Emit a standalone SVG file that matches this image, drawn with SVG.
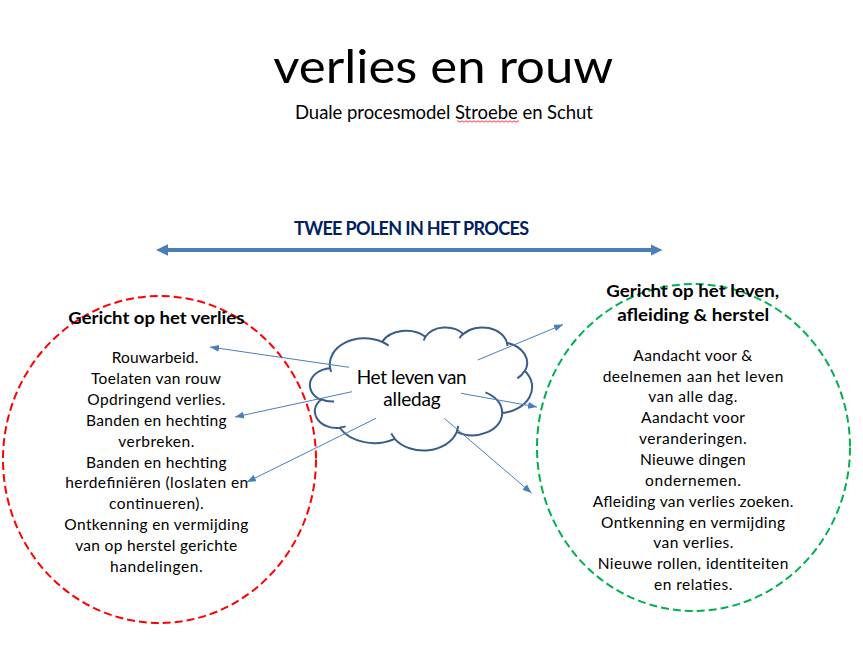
<svg xmlns="http://www.w3.org/2000/svg" width="863" height="645" viewBox="0 0 863 645">
<style>
.t{font-family:Lato,"Liberation Sans",sans-serif;fill:#000;text-anchor:middle}
.b{font-weight:bold}
.body{font-size:15.5px}
.hd{font-size:17px;font-weight:bold}
.conn{stroke:#4a7ebb;stroke-width:1;fill:none;marker-end:url(#ah)}
.ring{fill:none;stroke-width:2;stroke-dasharray:8 4}
.cl{fill:none;stroke:#385d8a;stroke-width:2}
</style>
<defs>
<marker id="ah" markerWidth="9" markerHeight="7" refX="9" refY="3.5" orient="auto" markerUnits="userSpaceOnUse"><path d="M0,0 L9,3.5 L0,7 z" fill="#4a7ebb"/></marker>
<marker id="big" markerWidth="12" markerHeight="11.4" refX="4" refY="5.7" orient="auto-start-reverse" markerUnits="userSpaceOnUse"><path d="M0,0 L12,5.7 L0,11.4 z" fill="#4a7ebb"/></marker>
</defs>
<rect width="863" height="645" fill="#fff"/>

<g id="title">
<text class="t" x="443.3" y="83.3" font-size="46" textLength="340" lengthAdjust="spacingAndGlyphs">verlies en rouw</text>
<text class="t" x="444" y="119.3" font-size="18.5" textLength="298">Duale procesmodel Stroebe en Schut</text>
<path d="M457 121.5 q1 -1.5 2 0 t2 0 t2 0 t2 0 t2 0 t2 0 t2 0 t2 0 t2 0 t2 0 t2 0 t2 0 t2 0 t2 0 t2 0 t2 0 t2 0 t2 0 t2 0 t2 0 t2 0 t2 0 t2 0 t2 0 t2 0 t2 0 t2 0 t2 0 t2 0 t2 0 t2 0" fill="none" stroke="#ff0000" stroke-width="0.8"/>
</g>

<g id="poles">
<text class="t b" x="411.5" y="235" font-size="18" style="fill:#002060" textLength="235">TWEE POLEN IN HET PROCES</text>
<line x1="164" y1="250" x2="654.5" y2="250" stroke="#4a7ebb" stroke-width="4" marker-start="url(#big)" marker-end="url(#big)"/>
</g>

<g id="node-verlies">
<ellipse class="ring" cx="159.5" cy="459.5" rx="156.5" ry="163.5" stroke="#ff0000"/>
<text class="t hd" x="156.3" y="324.3" textLength="176" lengthAdjust="spacingAndGlyphs">Gericht op het verlies</text>
<text class="t body" x="155" y="363.3" textLength="86.7">Rouwarbeid.</text>
<text class="t body" x="156" y="384.1" textLength="130">Toelaten van rouw</text>
<text class="t body" x="156.3" y="405" textLength="138">Opdringend verlies.</text>
<text class="t body" x="156.3" y="425.8" textLength="140.7">Banden en hechting</text>
<text class="t body" x="156.3" y="446.7" textLength="76">verbreken.</text>
<text class="t body" x="156.3" y="467.5" textLength="140.7">Banden en hechting</text>
<text class="t body" x="156.7" y="488.3" textLength="183">herdefiniëren (loslaten en</text>
<text class="t body" x="156.3" y="509.2" textLength="94.7">continueren).</text>
<text class="t body" x="156.3" y="530" textLength="184">Ontkenning en vermijding</text>
<text class="t body" x="156.2" y="550.9" textLength="162">van op herstel gerichte</text>
<text class="t body" x="156.3" y="571.7" textLength="92.7">handelingen.</text>
</g>

<g id="node-herstel">
<ellipse class="ring" cx="693.5" cy="447.5" rx="156.5" ry="163.5" stroke="#00b050"/>
<text class="t hd" x="692.7" y="297.3" textLength="173" lengthAdjust="spacingAndGlyphs">Gericht op het leven,</text>
<text class="t hd" x="693.2" y="320.7" textLength="152" lengthAdjust="spacingAndGlyphs">afleiding &amp; herstel</text>
<text class="t body" x="692.8" y="360.7" textLength="119">Aandacht voor &amp;</text>
<text class="t body" x="693" y="381.6" textLength="180.7">deelnemen aan het leven</text>
<text class="t body" x="692.8" y="402.4" textLength="89">van alle dag.</text>
<text class="t body" x="693" y="423.3" textLength="104">Aandacht voor</text>
<text class="t body" x="692.8" y="444.1" textLength="107.7">veranderingen.</text>
<text class="t body" x="692.8" y="465" textLength="105.7">Nieuwe dingen</text>
<text class="t body" x="693" y="485.8" textLength="96">ondernemen.</text>
<text class="t body" x="693" y="506.7" textLength="200.7">Afleiding van verlies zoeken.</text>
<text class="t body" x="693" y="527.5" textLength="184">Ontkenning en vermijding</text>
<text class="t body" x="693.3" y="548.4" textLength="80">van verlies.</text>
<text class="t body" x="693" y="569.2" textLength="190.7">Nieuwe rollen, identiteiten</text>
<text class="t body" x="693.2" y="590.1" textLength="78.3">en relaties.</text>
</g>

<g id="node-alledag">
<path d="M330.04,367.91 A34.70,26.17 0 0 1 381.98,341.82 A27.41,20.69 0 0 1 425.41,336.77 A22.43,16.93 0 0 1 463.32,334.06 A24.96,18.78 0 0 1 506.93,342.87 A27.41,20.71 0 0 1 524.92,371.01 A34.82,26.25 0 0 1 502.24,412.99 A29.73,22.40 0 0 1 456.77,431.81 A34.70,26.24 0 0 1 394.71,438.79 A39.67,30.02 0 0 1 339.84,427.98 A22.41,16.85 0 0 1 320.87,399.73 A22.33,16.93 0 0 1 329.87,368.29 Z" fill="#fff" stroke="#385d8a" stroke-width="2"/>
<path class="cl" d="M334.12,401.53 A22.33,16.93 0 0 1 321.10,399.26 M345.60,426.37 A22.41,16.85 0 0 1 339.90,427.45 M394.68,438.30 A34.70,26.24 0 0 1 391.25,433.34 M458.14,425.94 A34.70,26.24 0 0 1 456.77,431.38 M485.39,392.35 A29.73,22.40 0 0 1 502.10,412.67 M524.79,370.72 A27.41,20.71 0 0 1 517.35,378.34 M506.94,342.45 A24.96,18.78 0 0 1 507.33,346.05 M459.43,338.25 A24.96,18.78 0 0 1 463.24,333.67 M423.78,340.44 A22.43,16.93 0 0 1 425.63,336.48 M381.94,341.78 A34.70,26.17 0 0 1 388.61,345.61 M331.21,371.95 A34.70,26.17 0 0 1 330.04,367.91"/>
<text class="t" x="411.7" y="384.3" font-size="19" textLength="110">Het leven van</text>
<text class="t" x="412" y="406" font-size="19" textLength="57.3">alledag</text>
</g>

<g id="connectors">
<line class="conn" x1="349" y1="367.3" x2="210" y2="347"/>
<line class="conn" x1="352" y1="391.7" x2="235" y2="417"/>
<line class="conn" x1="376" y1="418.3" x2="247" y2="482"/>
<line class="conn" x1="477.7" y1="360" x2="563" y2="324.5"/>
<line class="conn" x1="461" y1="393.3" x2="537" y2="407"/>
<line class="conn" x1="444.3" y1="418.3" x2="531.5" y2="493"/>
</g>
</svg>
